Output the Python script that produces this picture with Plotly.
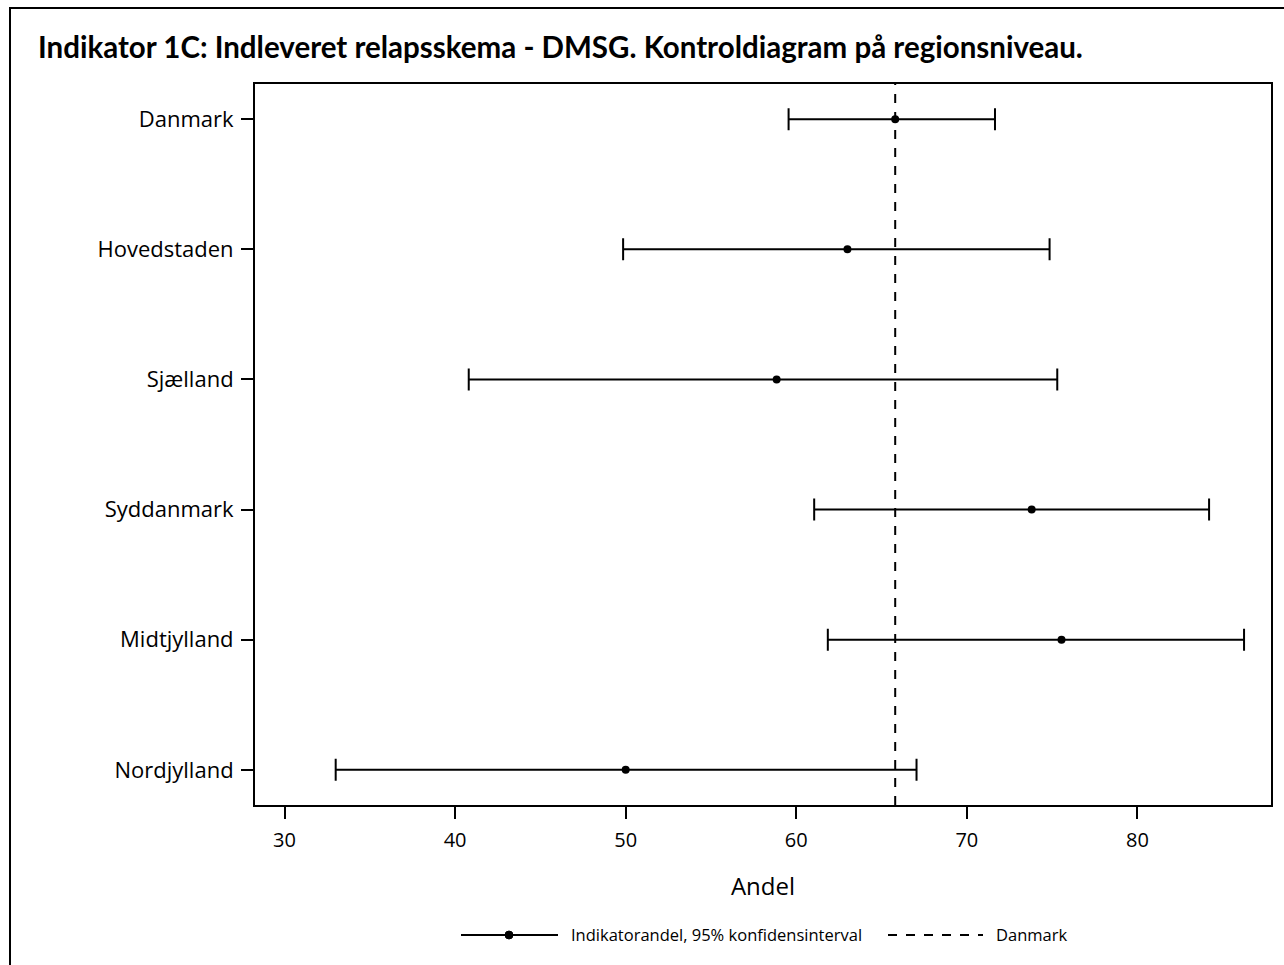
import plotly.graph_objects as go

regions = ["Danmark", "Hovedstaden", "Sjælland", "Syddanmark", "Midtjylland", "Nordjylland"]
andel = [65.8, 63.0, 58.85, 73.8, 75.55, 50.0]
lower = [59.55, 49.85, 40.8, 61.05, 61.85, 33.0]
upper = [71.65, 74.85, 75.3, 84.2, 86.25, 67.05]
danmark_ref = 65.8
x_ticks = [30, 40, 50, 60, 70, 80]

title_text = "Indikator 1C: Indleveret relapsskema - DMSG. Kontroldiagram på regionsniveau."
legend_ci = "Indikatorandel, 95% konfidensinterval"
legend_dk = "Danmark"

W, H = 1284, 965
L, R, T, B = 255, 13, 84, 160
PW, PH = W - L - R, H - T - B


def px(x):
    return (x - L) / PW


def py(y):
    return (H - B - y) / PH


fig = go.Figure()

fig.add_trace(go.Scatter(
    x=andel, y=regions, mode="markers",
    marker=dict(color="black", size=8, symbol="circle"),
    error_x=dict(type="data", symmetric=False,
                 array=[u - a for u, a in zip(upper, andel)],
                 arrayminus=[a - l for a, l in zip(andel, lower)],
                 color="black", thickness=2, width=11),
    showlegend=False, hoverinfo="x+y",
))

fig.add_shape(type="line", xref="x", yref="y domain",
              x0=danmark_ref, x1=danmark_ref, y0=0, y1=1,
              line=dict(color="black", width=2, dash="dash"))

# outer frame
fig.add_shape(type="rect", xref="paper", yref="paper",
              x0=px(10), x1=px(1400), y0=py(8), y1=py(1100),
              line=dict(color="black", width=2), layer="below")

# custom legend
leg_y = py(935)
fig.add_shape(type="line", xref="paper", yref="paper",
              x0=px(461), x1=px(558), y0=leg_y, y1=leg_y,
              line=dict(color="black", width=2))
fig.add_shape(type="circle", xref="paper", yref="paper",
              x0=px(505), x1=px(513), y0=py(939), y1=py(931),
              line=dict(color="black", width=1), fillcolor="black")
fig.add_shape(type="line", xref="paper", yref="paper",
              x0=px(888), x1=px(983), y0=leg_y, y1=leg_y,
              line=dict(color="black", width=2, dash="dash"))
fig.add_annotation(xref="paper", yref="paper", x=px(569), y=leg_y,
                   xanchor="left", yanchor="middle", showarrow=False,
                   text=legend_ci,
                   font=dict(family="Open Sans", size=16.5, color="black"))
fig.add_annotation(xref="paper", yref="paper", x=px(994), y=leg_y,
                   xanchor="left", yanchor="middle", showarrow=False,
                   text=legend_dk,
                   font=dict(family="Open Sans", size=16.5, color="black"))

fig.update_layout(
    width=W, height=H,
    margin=dict(l=L, r=R, t=T, b=B, autoexpand=False),
    paper_bgcolor="white", plot_bgcolor="white",
    showlegend=False,
    title=dict(text="<b>" + title_text + "</b>", x=38 / W, xanchor="left",
               y=1 - 48 / H, yanchor="middle",
               font=dict(family="Lato", size=29.5, color="black")),
    xaxis=dict(range=[28.27, 87.83], tickvals=x_ticks,
               ticks="outside", ticklen=12, tickwidth=2, tickcolor="black",
               ticklabelstandoff=4,
               showline=True, linecolor="black", linewidth=2, mirror=True,
               showgrid=False, zeroline=False,
               tickfont=dict(family="Open Sans", size=20, color="black"),
               title=dict(text="Andel", standoff=26,
                          font=dict(family="Open Sans", size=24, color="black"))),
    yaxis=dict(type="category", categoryorder="array", categoryarray=regions,
               range=[5.27, -0.27],
               ticks="outside", ticklen=12, tickwidth=2, tickcolor="black",
               ticklabelstandoff=3,
               showline=True, linecolor="black", linewidth=2, mirror=True,
               showgrid=False, zeroline=False,
               tickfont=dict(family="Open Sans", size=22, color="black")),
)

fig.write_html("out.html")
